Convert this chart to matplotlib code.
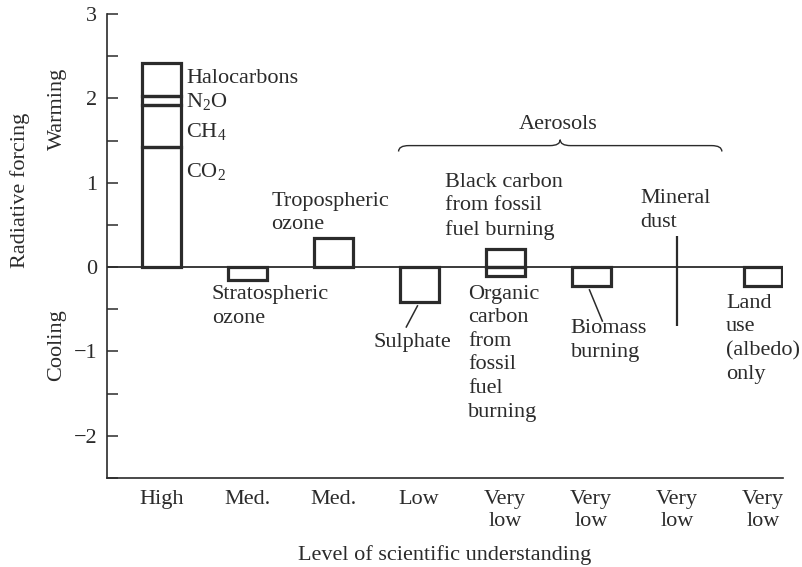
import numpy as np
import matplotlib
matplotlib.use("Agg")
import matplotlib.pyplot as plt
from matplotlib.path import Path
from matplotlib.patches import PathPatch

plt.rcParams['font.family'] = ['Liberation Serif', 'DejaVu Serif']
plt.rcParams['mathtext.fontset'] = 'custom'
plt.rcParams['mathtext.rm'] = 'Liberation Serif'
plt.rcParams['mathtext.it'] = 'Liberation Serif:italic'

INK = '#2b2b2b'

# level of scientific understanding, one per column
understanding = ['High', 'Med.', 'Med.', 'Low', 'Very\nlow', 'Very\nlow', 'Very\nlow', 'Very\nlow']

# greenhouse gases, stacked in the first column
ghg_names = ['CO$_2$', 'CH$_4$', 'N$_2$O', 'Halocarbons']
ghg_values = [1.42, 0.50, 0.11, 0.39]

# the other forcings (column, value)
other_names = ['Stratospheric ozone', 'Tropospheric ozone', 'Sulphate',
               'Black carbon', 'Organic carbon', 'Biomass burning', 'Land use']
other_cols = [1, 2, 3, 4, 4, 5, 7]
other_values = [-0.15, 0.34, -0.41, 0.21, -0.10, -0.23, -0.22]

# mineral dust is only a range
dust_col = 6
dust_range = (-0.70, 0.37)

fig = plt.figure(figsize=(8.03, 5.67), dpi=100)
ax = fig.add_axes([0.1333, 0.157, 0.975 - 0.1333, 0.9753 - 0.157])

w = 0.45
bar_kw = dict(width=w, fill=False, edgecolor=INK, linewidth=2.3, zorder=3)

# stacked greenhouse gas bar
bottom = 0
for v in ghg_values:
    ax.bar(0, v, bottom=bottom, **bar_kw)
    bottom += v

for c, v in zip(other_cols, other_values):
    ax.bar(c, v, **bar_kw)

ax.vlines(dust_col, dust_range[0], dust_range[1], color=INK, lw=1.6, zorder=3)

ax.axhline(0, color=INK, lw=1.3, zorder=2)

fs = 16

ax.set_xlim(-0.63, 7.23)
ax.set_ylim(-2.5, 3)
ax.set_yticks([-2, -1, 0, 1, 2, 3])
ax.set_yticks(np.arange(-2.5, 3.01, 0.5), minor=True)
ax.set_yticklabels(['\u22122', '\u22121', '0', '1', '2', '3'])
ax.tick_params(axis='y', which='both', direction='in', length=8, width=1.1,
               color=INK, labelsize=fs, labelcolor=INK, pad=7)
ax.set_xticks(range(len(understanding)))
ax.set_xticklabels(understanding, linespacing=1.18)
ax.tick_params(axis='x', length=0, labelsize=fs, labelcolor=INK, pad=9)

for s in ['top', 'right']:
    ax.spines[s].set_visible(False)
for s in ['left', 'bottom']:
    ax.spines[s].set_color(INK)
    ax.spines[s].set_linewidth(1.2)

tk = dict(fontsize=fs, color=INK, linespacing=1.33)

# greenhouse gas labels
ax.text(0.29, 2.23, ghg_names[3], va='center', ha='left', **tk)
ax.text(0.29, 1.96, ghg_names[2], va='center', ha='left', **tk)
ax.text(0.29, 1.61, ghg_names[1], va='center', ha='left', **tk)
ax.text(0.29, 1.13, ghg_names[0], va='center', ha='left', **tk)

ax.text(1.28, 0.64, 'Tropospheric\nozone', va='center', ha='left', **tk)
ax.text(0.59, -0.47, 'Stratospheric\nozone', va='center', ha='left', **tk)
ax.text(2.92, -0.89, 'Sulphate', va='center', ha='center', **tk)
ax.plot([2.98, 2.85], [-0.46, -0.71], color=INK, lw=1.1)
ax.text(3.30, 0.72, 'Black carbon\nfrom fossil\nfuel burning', va='center', ha='left', **tk)
ax.text(3.57, -1.02, 'Organic\ncarbon\nfrom\nfossil\nfuel\nburning', va='center', ha='left', **tk)
ax.text(4.76, -0.87, 'Biomass\nburning', va='center', ha='left', **tk)
ax.plot([4.98, 5.13], [-0.27, -0.64], color=INK, lw=1.1)
ax.text(5.57, 0.67, 'Mineral\ndust', va='center', ha='left', **tk)
ax.text(6.57, -0.85, 'Land\nuse\n(albedo)\nonly', va='center', ha='left', **tk)

# aerosols brace
ax.text(4.62, 1.69, 'Aerosols', va='center', ha='center', **tk)
x0, x1, xm = 2.76, 6.52, 4.64
yb, yl, yt = 1.44, 1.37, 1.51
verts = [(x0, yl), (x0, yb), (x0 + 0.12, yb), (xm - 0.12, yb), (xm, yb), (xm, yt),
         (xm, yb), (xm + 0.12, yb), (x1 - 0.12, yb), (x1, yb), (x1, yl)]
codes = [Path.MOVETO, Path.CURVE3, Path.CURVE3, Path.LINETO, Path.CURVE3, Path.CURVE3,
         Path.CURVE3, Path.CURVE3, Path.LINETO, Path.CURVE3, Path.CURVE3]
ax.add_patch(PathPatch(Path(verts, codes), fill=False, edgecolor=INK, lw=1.0))

# axis titles
fig.text(20 / 803, 1 - 190 / 567, 'Radiative forcing', rotation=90, ha='center', va='center',
         fontsize=fs, color=INK)
fig.text(57 / 803, 1 - 109 / 567, 'Warming', rotation=90, ha='center', va='center',
         fontsize=fs, color=INK)
fig.text(57 / 803, 1 - 345 / 567, 'Cooling', rotation=90, ha='center', va='center',
         fontsize=fs, color=INK)
fig.text(445 / 803, 1 - 560 / 567, 'Level of scientific understanding', ha='center',
         va='baseline', fontsize=fs, color=INK)

fig.savefig('out.png', dpi=100)
